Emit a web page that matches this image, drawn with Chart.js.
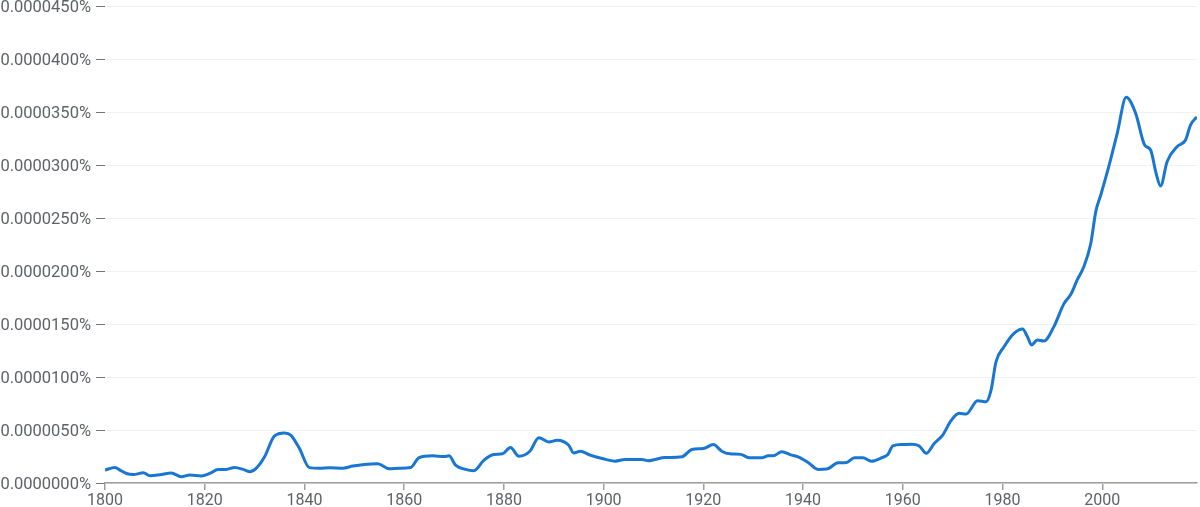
<!DOCTYPE html>
<html>
<head>
<meta charset="utf-8">
<script src="https://cdn.jsdelivr.net/npm/chart.js@4/dist/chart.umd.min.js"></script>
<style>
  html, body { margin: 0; padding: 0; background: #fff; }
  #wrap { width: 1200px; height: 507px; }
</style>
</head>
<body>
<div id="wrap"><canvas id="myChart" width="1200" height="507"></canvas></div>
<script>
// years (not evenly spaced)
let years = [1800,1802,1803,1804.3,1805.7,1807.7,1809,1811,1813.3,1815.3,1817,1819.3,1821,1822.7,1824.3,1826,1827.7,1829,1830.3,1832,1834,1836,1837.3,1839,1841,1843,1845,1847.7,1849.7,1852,1854.7,1857,1859,1861.3,1863,1865.7,1868,1869,1870.3,1872.3,1874,1876,1878,1879.7,1881.3,1883,1885.2,1887,1889,1890.7,1893,1894,1895.3,1897.3,1899.7,1902.3,1904.3,1907.7,1909,1910.3,1912.3,1915.7,1917.7,1920,1922,1923.7,1925.3,1927.5,1929.3,1931.7,1933,1934,1935.7,1937.7,1939,1941,1943,1944.7,1947,1948.7,1950.3,1952,1953.7,1955.7,1957,1958,1960,1961.7,1963.3,1964.7,1966.3,1968,1969.7,1971.3,1972.7,1975,1976.7,1977.7,1978.7,1980.3,1982.3,1984,1985,1985.8,1987,1988.3,1990.3,1992.3,1993.7,1995,1996.3,1997.7,1998.7,1999.7,2001.3,2003,2004.8,2006.7,2008.5,2009.7,2010.8,2011.7,2013,2015,2016.7,2017.7,2018.7,2019]

// frequency in units of 0.0000001%
let freq = [12.2,14.7,12.2,9,8,9.7,6.9,7.8,9.4,5.9,7.5,6.6,9,12.8,12.8,14.7,12.8,10.6,13.75,24.7,44.4,47.2,45,32.5,14.5,14,14.4,14,16,17.5,18.1,13.4,14,14.7,24,25.6,25,25.6,16.9,12.8,11.6,21.6,26.9,27.5,33.4,25.3,30,42.8,38.75,40.3,35.6,28.4,30,26.25,23.1,20.6,22.2,22.2,20.9,22.2,24,24.7,31.6,32.5,36.25,30,27.5,27,23.75,23.75,25.6,25.6,29.4,26.25,24.7,19.4,12.8,13.1,19,19.4,23.75,23.75,20.6,23.75,26.9,35,36.25,36.6,35,28,37.3,45.2,59,65.7,65,77.7,76.7,87.7,114.5,128.6,141.2,145.3,138,130.2,134.9,134,147.5,169,178,191.8,204,226,256,271.7,298.4,329.9,363.8,348.7,318.9,314.1,292.1,280.2,303.1,317.3,323.6,337.7,344,345]

let yMax = 450, yStep = 50
let xMin = 1800, xMax = 2019, xStep = 20

let points = years.map((y, i) => ({x: y, y: freq[i]}))

var ctx = document.getElementById("myChart").getContext("2d");
var myChart = new Chart(ctx, {
    type: "line",
    data: {
        datasets: [{
            data: points,
            borderColor: '#1976d2',
            borderWidth: 3,
            pointRadius: 0,
            cubicInterpolationMode: 'monotone',
            fill: false
        }]
    },
    options: {
        responsive: false,
        animation: false,
        layout: { padding: { top: 6, right: 3, left: 0, bottom: 0 } },
        plugins: { legend: { display: false }, tooltip: { enabled: false } },
        scales: {
            x: {
                type: 'linear',
                min: xMin,
                max: xMax,
                grid: { drawOnChartArea: false, tickLength: 7, tickColor: '#9e9e9e', lineWidth: 1.5 },
                border: { color: '#9e9e9e', width: 1.5 },
                ticks: {
                    stepSize: xStep,
                    color: '#5f6368',
                    font: { family: 'Roboto', size: 16 },
                    padding: 1,
                    maxRotation: 0,
                    callback: v => v
                },
                // keep only the round 20-year ticks (drop the 2019 end tick)
                afterBuildTicks: s => { s.ticks = s.ticks.filter(t => t.value % xStep === 0) },
                afterFit: s => { s.height = 24; s.paddingLeft = 0; s.paddingRight = 0 }
            },
            y: {
                min: 0,
                max: yMax,
                grid: { color: '#f1f1f1', tickLength: 9, tickColor: '#757575', lineWidth: 1 },
                border: { display: false },
                ticks: {
                    stepSize: yStep,
                    color: '#5f6368',
                    font: { family: 'Roboto', size: 16.5 },
                    padding: 5,
                    labelOffset: 2,
                    callback: v => (v / 1e7).toFixed(7) + '%'
                },
                afterFit: s => { s.width = 105; s.paddingTop = 0; s.paddingBottom = 0 }
            }
        }
    }
});
</script>
</body>
</html>
